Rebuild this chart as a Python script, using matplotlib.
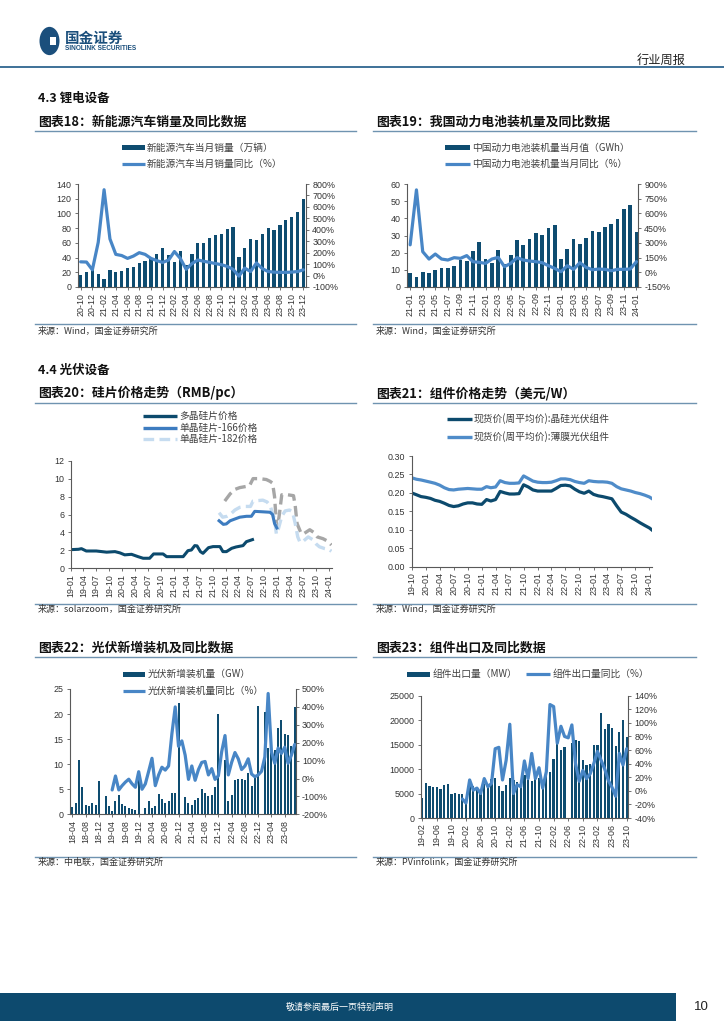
import numpy as np
import pandas as pd
import matplotlib
matplotlib.use('Agg')
import matplotlib.pyplot as plt
import matplotlib.dates as mdates
from matplotlib.lines import Line2D
from matplotlib.patches import Rectangle, Circle
from matplotlib.ticker import FixedLocator, FuncFormatter

W, H = 724, 1024
CJK = ['Noto Sans CJK SC', 'DejaVu Sans']
NUM = ['Liberation Sans', 'Noto Sans CJK SC', 'DejaVu Sans']
plt.rcParams['font.family'] = NUM
plt.rcParams['axes.unicode_minus'] = False

BAR_C = '#0e4c70'
LINE_C = '#4886c6'
SP = '#595959'
TXT = '#333333'
NAVY = '#0d4a6e'
RULE = '#6f93b0'

# ---------------- data ----------------
# Chart 18: NEV monthly sales (10k units) and YoY (%)
nev_start = '2020-10'
nev_sales = [16.0, 20.0, 24.8, 17.9, 11.0, 22.6, 20.6, 21.7, 25.6, 27.1, 32.1, 35.7, 38.3, 45.0, 53.1,
             43.1, 33.4, 48.4, 29.9, 44.7, 59.6, 59.3, 66.6, 70.8, 71.4, 78.6, 81.4,
             40.8, 52.5, 65.3, 63.6, 71.7, 80.6, 78.0, 84.6, 90.4, 95.6, 102.6, 119.1]
nev_yoy = [120, 118, 50, 290, 750, 320, 185, 175, 150, 170, 200, 185, 150, 130, 115,
           135, 210, 150, 55, 105, 136, 125, 115, 105, 95, 80, 55,
           -5, 65, 35, 110, 60, 35, 30, 28, 28, 30, 35, 50]

# Chart 19: power battery installations (GWh) and YoY (%)
bat_start = '2021-01'
bat_vals = [8.4, 5.6, 9.0, 8.4, 9.8, 11.1, 11.3, 12.5, 15.7, 15.4, 20.8, 26.2,
            16.2, 13.7, 21.4, 13.3, 18.6, 27.2, 24.2, 27.8, 31.6, 30.5, 34.3, 35.9,
            16.1, 21.9, 27.8, 25.1, 28.3, 32.9, 32.2, 34.9, 36.6, 39.4, 45.5, 47.8, 32.3]
bat_yoy = [280, 840, 210, 135, 186, 135, 125, 149, 142, 170, 108, 101,
           91, 135, 152, 57, 91, 149, 125, 115, 108, 98, 67, 40,
           6, 67, 30, 98, 50, 26, 33, 30, 16, 30, 30, 33, 108]

# Chart 20: wafer prices (RMB/pc)
poly_dates = ['2019-01-01', '2019-02-25', '2019-03-18', '2019-04-21', '2019-07-01', '2019-09-12',
              '2019-11-10', '2019-12-15', '2020-01-18', '2020-03-06', '2020-04-21', '2020-05-27',
              '2020-07-12', '2020-08-09', '2020-10-15', '2020-11-09', '2021-01-18', '2021-03-06',
              '2021-04-09', '2021-05-03', '2021-05-27', '2021-06-12', '2021-07-06', '2021-07-24',
              '2021-09-01', '2021-10-03', '2021-11-21', '2021-12-12', '2022-01-06', '2022-02-12',
              '2022-03-15', '2022-05-03', '2022-05-27', '2022-07-09']
poly_vals = [2.08, 2.12, 2.19, 1.93, 1.93, 1.80, 1.86, 1.72, 1.50, 1.56, 1.30, 1.12,
             1.12, 1.60, 1.60, 1.30, 1.30, 1.30, 1.97, 2.04, 2.53, 2.50, 1.86, 1.67,
             2.30, 2.42, 2.42, 1.86, 1.86, 2.23, 2.38, 2.53, 2.97, 3.20]
m166_dates = ['2021-11-15', '2021-12-15', '2022-01-05', '2022-02-01', '2022-03-07', '2022-04-10',
              '2022-05-28', '2022-07-01', '2022-07-25', '2022-09-20', '2022-11-10', '2022-11-28',
              '2022-12-12', '2022-12-28']
m166_vals = [5.3, 4.9, 4.95, 5.3, 5.5, 5.7, 5.8, 5.8, 6.35, 6.3, 6.25, 6.0, 5.0, 4.5]
m182_dates = ['2021-11-15', '2021-12-10', '2022-01-10', '2022-02-01', '2022-03-07', '2022-04-10',
              '2022-05-15', '2022-06-25', '2022-07-13', '2022-09-20', '2022-10-20', '2022-11-10',
              '2022-12-12', '2022-12-25', '2023-01-10', '2023-02-01', '2023-02-25', '2023-03-28',
              '2023-04-18', '2023-05-07', '2023-05-25', '2023-06-10', '2023-07-01', '2023-08-07',
              '2023-09-07', '2023-10-03', '2023-10-25', '2023-12-01', '2024-01-01', '2024-01-18']
m182_vals = [6.2, 5.7, 5.8, 6.0, 6.5, 6.8, 6.9, 6.9, 7.5, 7.6, 7.4, 7.0,
             5.5, 3.8, 4.5, 5.8, 6.4, 6.5, 6.3, 5.0, 3.5, 2.9, 3.0, 3.5,
             3.2, 2.7, 2.4, 2.2, 2.1, 1.9]
m210_dates = ['2021-12-25', '2022-02-01', '2022-03-07', '2022-04-10', '2022-05-15', '2022-06-18',
              '2022-07-13', '2022-08-28', '2022-10-15', '2022-11-10', '2022-11-28', '2022-12-12',
              '2022-12-25', '2023-01-01', '2023-01-15', '2023-02-01', '2023-03-15', '2023-04-25',
              '2023-05-07', '2023-05-20', '2023-06-15', '2023-07-01', '2023-08-18', '2023-09-15',
              '2023-10-10', '2023-11-20', '2023-12-25', '2024-01-18']
m210_vals = [7.5, 8.3, 8.8, 9.0, 9.1, 9.2, 10.0, 10.0, 9.9, 9.7, 9.5, 8.0,
             5.0, 4.5, 6.0, 8.2, 8.2, 8.1, 7.0, 5.0, 4.0, 3.8, 4.3, 4.0,
             3.5, 3.3, 3.0, 2.6]

# Chart 21: module spot prices (USD/W), monthly from 2019-10
mod_start = '2019-10'
mod_csi = [0.200, 0.195, 0.190, 0.188, 0.185, 0.180, 0.177, 0.172, 0.166, 0.163, 0.165, 0.170,
           0.173, 0.173, 0.170, 0.169, 0.182, 0.178, 0.182, 0.204, 0.200, 0.197, 0.197, 0.198,
           0.222, 0.216, 0.208, 0.205, 0.205, 0.205, 0.205, 0.212, 0.220, 0.221, 0.219, 0.210,
           0.203, 0.199, 0.205, 0.196, 0.192, 0.190, 0.187, 0.184, 0.165, 0.148, 0.142, 0.134,
           0.127, 0.119, 0.112, 0.105, 0.100]
mod_film = [0.241, 0.237, 0.235, 0.232, 0.229, 0.226, 0.221, 0.214, 0.209, 0.208, 0.210, 0.211,
            0.212, 0.211, 0.210, 0.210, 0.217, 0.214, 0.216, 0.233, 0.228, 0.226, 0.226, 0.227,
            0.246, 0.239, 0.232, 0.229, 0.228, 0.228, 0.229, 0.233, 0.238, 0.238, 0.236, 0.231,
            0.228, 0.226, 0.233, 0.231, 0.230, 0.230, 0.229, 0.226, 0.217, 0.211, 0.208, 0.205,
            0.201, 0.198, 0.194, 0.189, 0.185]

# Chart 22: PV new installations (GW) and YoY (%), monthly from 2018-04
pv_start = '2018-04'
nan = np.nan
pv_new = [1.5, 2.3, 10.8, 5.5, 1.8, 1.6, 2.2, 1.8, 6.6,
          nan, 3.6, 1.6, 0.7, 2.6, 3.8, 2.0, 1.6, 1.3, 1.1, 0.9, 8.3,
          nan, 1.2, 2.6, 1.2, 1.6, 4.1, 3.0, 2.2, 2.7, 4.3, 4.2, 22.3,
          nan, 3.4, 2.2, 1.8, 2.8, 3.2, 5.0, 4.2, 3.6, 3.8, 5.5, 20.1,
          nan, 10.9, 2.6, 3.8, 6.9, 7.1, 7.0, 6.9, 8.3, 5.7, 7.5, 21.7,
          nan, 20.5, 13.3, 14.6, 12.9, 17.2, 18.8, 16.0, 15.8, 13.6, 21.5]
pv_yoy = [nan] * 12 + [-64, 14, -64, -40, -20, -4, -30, -49, 38, -60,
                       -30, 40, 113, -40, 20, 63, 47, 70, 250, 400,
                       180, 210, 130, -5, 70, -10, 50, 90, 95, 20,
                       55, -5, 15, 150, 240, 20, 90, 145, 110, 50,
                       70, 110, 25, 10, 20, 40, 120, 475, 150, 85,
                       170, 140, 175, 85, 130, 190]

# Chart 23: module exports (MW) and YoY (%), monthly from 2019-02
exp_start = '2019-02'
exp_vals = [4000, 7100, 6550, 6350, 6350, 5950, 6750, 6950, 4900, 5050, 4900, 4900,
            3600, 8000, 6500, 6400, 5700, 6900, 6600, 7900, 8200, 6500, 5500, 6800,
            8100, 7700, 7400, 7500, 8800, 7700, 7500, 8000, 8200, 7500, 8900, 9500,
            12100, 15100, 13900, 14500, nan, 15400, 15900, 15800, 11900, 10900, 11000, 14900,
            14900, 21400, 18200, 19200, 18300, 14800, 17600, 20000, 16600]
exp_yoy = [nan] * 11 + [-12, -18, 16, 1, 4, -4, 18, 6, 11, 62,
                        64, 16, 45, 98, -4, 9, 6, 44, 18, 55,
                        18, 34, 4, 28, 127, 124, 70, 95, 80, 78,
                        97, 40, 14, 30, 18, 25, 40, 58, 45, 32,
                        15, 5, -8, 55, 38, 62]

# ---------------- figure helpers ----------------
fig = plt.figure(figsize=(W / 100, H / 100), dpi=100)
fig.patch.set_facecolor('white')


def add_ax(x0, y0, x1, y1):
    return fig.add_axes([x0 / W, 1 - y1 / H, (x1 - x0) / W, (y1 - y0) / H])


def ftext(x, y, s, size, color=TXT, weight='normal', ha='left', va='center', family=None):
    fig.text(x / W, 1 - y / H, s, fontsize=size, color=color, fontweight=weight,
             ha=ha, va=va, family=family or CJK)


def hline(x0, x1, y, color, lw):
    fig.add_artist(Line2D([x0 / W, x1 / W], [1 - y / H] * 2, color=color, lw=lw,
                          transform=fig.transFigure))


def leg_patch(x0, x1, y, h, color):
    fig.add_artist(Rectangle((x0 / W, 1 - (y + h / 2) / H), (x1 - x0) / W, h / H,
                             facecolor=color, edgecolor='none', transform=fig.transFigure))


def leg_line(x0, x1, y, color, lw, dashes=None):
    ln = Line2D([x0 / W, x1 / W], [1 - y / H] * 2, color=color, lw=lw,
                transform=fig.transFigure, solid_capstyle='butt')
    if dashes:
        ln.set_dashes(dashes)
    fig.add_artist(ln)


def style(ax, ls=6.4):
    for s in ('top', 'right'):
        ax.spines[s].set_visible(False)
    for s in ('left', 'bottom'):
        ax.spines[s].set_color(SP)
        ax.spines[s].set_linewidth(0.8)
    ax.tick_params(axis='both', length=2.5, width=0.6, color=SP, labelsize=ls,
                   labelcolor=TXT, pad=2)
    ax.tick_params(axis='x', labelrotation=90, pad=1.5)
    ax.set_facecolor('none')


def style_right(ax2, ls=6.4):
    for s in ('top', 'left', 'bottom'):
        ax2.spines[s].set_visible(False)
    ax2.spines['right'].set_color(SP)
    ax2.spines['right'].set_linewidth(0.8)
    ax2.tick_params(axis='y', length=2.5, width=0.6, color=SP, labelsize=ls,
                    labelcolor=TXT, pad=2)


pct = FuncFormatter(lambda v, p: f'{v:.0f}%')


def combo(box, start, bars, yoy, ylim, ystep, y2lim, y2step, every, xlim, bw):
    cats = pd.period_range(start, periods=len(bars), freq='M').strftime('%y-%m').tolist()
    x = np.arange(len(cats))
    ax = add_ax(*box)
    ax.bar(x, bars, width=bw, color=BAR_C, zorder=2)
    ax.set_xlim(*xlim)
    ax.set_ylim(*ylim)
    ax.set_yticks(np.arange(ylim[0], ylim[1] + ystep / 2, ystep))
    ax.set_xticks(x[::every])
    ax.set_xticklabels(cats[::every])
    style(ax)
    ax2 = ax.twinx()
    ax2.plot(x, yoy, color=LINE_C, lw=2.3, solid_joinstyle='round', solid_capstyle='round')
    ax2.set_xlim(*xlim)
    ax2.set_ylim(*y2lim)
    ax2.set_yticks(np.arange(y2lim[0], y2lim[1] + y2step / 2, y2step))
    ax2.yaxis.set_major_formatter(pct)
    style_right(ax2)
    return ax, ax2


# ---------------- page furniture ----------------
TITLE = 9.3
SRC = 6.5
# logo
fig.add_artist(Circle((49.5 / W, 1 - 41 / H), 10.0 / W, facecolor='#1b4f7c', edgecolor='none',
                      transform=fig.transFigure))
fig.add_artist(Rectangle((50 / W, 1 - 45 / H), 6 / W, 8 / H, facecolor='white', edgecolor='none',
                         transform=fig.transFigure))
ftext(65, 37.5, '国金证券', 10.5, color='#1b4f7c', weight='bold')
ftext(65, 48.5, 'SINOLINK SECURITIES', 4.7, color='#1b4f7c', weight='bold', family=NUM)
ftext(686, 60, '行业周报', 8.8, color='#222222', ha='right')
hline(0, 724, 67, '#2f6690', 1.3)

ftext(38, 98.5, '4.3 锂电设备', 9, color='#111111', weight='bold')
ftext(38, 122, '图表18：新能源汽车销量及同比数据', TITLE, color='#111111', weight='bold')
ftext(376, 122, '图表19：我国动力电池装机量及同比数据', TITLE, color='#111111', weight='bold')
hline(35, 356, 131, RULE, 1.0)
hline(373, 696, 131, RULE, 1.0)
hline(35, 356, 324, RULE, 1.0)
hline(373, 696, 324, RULE, 1.0)
ftext(38, 331, '来源：Wind，国金证券研究所', SRC)
ftext(376, 331, '来源：Wind，国金证券研究所', SRC)

ftext(38, 370, '4.4 光伏设备', 9, color='#111111', weight='bold')
ftext(38, 393, '图表20：硅片价格走势（RMB/pc）', TITLE, color='#111111', weight='bold')
ftext(376, 393, '图表21：组件价格走势（美元/W）', TITLE, color='#111111', weight='bold')
hline(35, 356, 403, RULE, 1.0)
hline(373, 696, 403, RULE, 1.0)
hline(35, 356, 603.5, RULE, 1.0)
hline(373, 696, 603.5, RULE, 1.0)
ftext(38, 609.5, '来源：solarzoom，国金证券研究所', SRC)
ftext(376, 609.5, '来源：Wind，国金证券研究所', SRC)

ftext(38, 648, '图表22：光伏新增装机及同比数据', TITLE, color='#111111', weight='bold')
ftext(376, 648, '图表23：组件出口及同比数据', TITLE, color='#111111', weight='bold')
hline(35, 356, 657, RULE, 1.0)
hline(373, 696, 657, RULE, 1.0)
hline(35, 356, 856.5, RULE, 1.0)
hline(373, 696, 856.5, RULE, 1.0)
ftext(38, 862.5, '来源：中电联，国金证券研究所', SRC)
ftext(376, 862.5, '来源：PVinfolink，国金证券研究所', SRC)

# footer
fig.add_artist(Rectangle((0, 1 - 1021 / H), 676 / W, 28 / H, facecolor=NAVY, edgecolor='none',
                         transform=fig.transFigure))
ftext(340, 1007, '敬请参阅最后一页特别声明', 6.5, color='white', ha='center')
ftext(701, 1007, '10', 9.5, color='#222222', ha='center', family=NUM)

LEG = 7.0
LEGC = '#404040'

# ---------------- chart 18 ----------------
combo((78, 184, 306, 287), nev_start, nev_sales, nev_yoy, (0, 140), 20, (-100, 800), 100,
      2, (-0.45, 38.45), 0.55)
leg_patch(122, 145, 147.5, 5, BAR_C)
ftext(147, 147.5, '新能源汽车当月销量（万辆）', LEG, color=LEGC)
leg_line(122, 145, 164, LINE_C, 2.3)
ftext(147, 164, '新能源汽车当月销量同比（%）', LEG, color=LEGC)

# ---------------- chart 19 ----------------
combo((406.7, 184, 638, 287), bat_start, bat_vals, bat_yoy, (0, 60), 10, (-150, 900), 150,
      2, (-0.55, 36.25), 0.6)
leg_patch(445, 470, 147.5, 5, BAR_C)
ftext(472, 147.5, '中国动力电池装机量当月值（GWh）', LEG, color=LEGC)
leg_line(445, 470, 164, LINE_C, 2.3)
ftext(472, 164, '中国动力电池装机量当月同比（%）', LEG, color=LEGC)

# ---------------- chart 20 ----------------
ax20 = add_ax(70.7, 460.7, 331.7, 568.3)
ax20.plot(pd.to_datetime(m210_dates), m210_vals, color='#a6a6a6', lw=2.4, dashes=(3.2, 1.6))
ax20.plot(pd.to_datetime(m182_dates), m182_vals, color='#c6dcf0', lw=2.4, dashes=(3.2, 1.6))
ax20.plot(pd.to_datetime(m166_dates), m166_vals, color='#3d7cc0', lw=2.2)
ax20.plot(pd.to_datetime(poly_dates), poly_vals, color='#0c4a6d', lw=2.2)
ax20.set_ylim(0, 12)
ax20.set_yticks(np.arange(0, 13, 2))
ax20.set_xlim(pd.Timestamp('2019-01-01'), pd.Timestamp('2024-01-20'))
t20 = pd.date_range('2019-01-01', '2024-01-01', freq='3MS')
ax20.xaxis.set_major_locator(FixedLocator(mdates.date2num(t20)))
ax20.xaxis.set_major_formatter(mdates.DateFormatter('%y-%m'))
style(ax20)
leg_line(143, 177, 415.7, '#0c4a6d', 2.4)
ftext(179, 415.7, '多晶硅片价格', LEG, color=LEGC)
leg_line(143, 177, 427.7, '#3d7cc0', 2.4)
ftext(179, 427.7, '单晶硅片-166价格', LEG, color=LEGC)
leg_line(143, 177, 439.2, '#c6dcf0', 2.4, dashes=(3.2, 1.6))
ftext(179, 439.2, '单晶硅片-182价格', LEG, color=LEGC)

# ---------------- chart 21 ----------------
ax21 = add_ax(411.7, 456, 651.7, 566.7)
d21 = list(pd.date_range(mod_start + '-01', periods=len(mod_csi) - 1, freq='MS')) + [pd.Timestamp('2024-01-16')]
ax21.plot(d21, mod_film, color='#4f8cc9', lw=2.3, solid_joinstyle='round')
ax21.plot(d21, mod_csi, color='#0c4a6d', lw=2.3, solid_joinstyle='round')
ax21.set_ylim(0, 0.30)
ax21.set_yticks(np.arange(0, 0.301, 0.05))
ax21.yaxis.set_major_formatter(FuncFormatter(lambda v, p: f'{v:.2f}'))
ax21.set_xlim(pd.Timestamp('2019-10-01'), pd.Timestamp('2024-01-16'))
t21 = pd.date_range('2019-10-01', '2024-01-01', freq='3MS')
ax21.xaxis.set_major_locator(FixedLocator(mdates.date2num(t21)))
ax21.xaxis.set_major_formatter(mdates.DateFormatter('%y-%m'))
style(ax21)
leg_line(447, 472, 419, '#0c4a6d', 2.4)
ftext(474, 419, '现货价(周平均价):晶硅光伏组件', LEG, color=LEGC)
leg_line(447, 472, 436.7, '#4f8cc9', 2.4)
ftext(474, 436.7, '现货价(周平均价):薄膜光伏组件', LEG, color=LEGC)

# ---------------- chart 22 ----------------
combo((70, 689, 295.7, 814.3), pv_start, pv_new, pv_yoy, (0, 25), 5, (-200, 500), 100,
      4, (-0.7, 67.3), 0.6)
leg_patch(123, 145, 674, 5, BAR_C)
ftext(148, 674, '光伏新增装机量（GW）', LEG, color=LEGC)
leg_line(123, 145, 691, LINE_C, 2.3)
ftext(148, 691, '光伏新增装机量同比（%）', LEG, color=LEGC)

# ---------------- chart 23 ----------------
ax23, _ = combo((420.7, 695.7, 628.3, 818), exp_start, exp_vals, exp_yoy, (0, 25000), 5000,
                (-40, 140), 20, 4, (-0.4, 56.45), 0.62)
ax23.yaxis.set_major_formatter(FuncFormatter(lambda v, p: f'{v:.0f}'))
leg_patch(407, 430, 674, 5, BAR_C)
ftext(433, 674, '组件出口量（MW）', LEG, color=LEGC)
leg_line(526, 550, 674, LINE_C, 2.3)
ftext(553, 674, '组件出口量同比（%）', LEG, color=LEGC)

fig.savefig('out.png', dpi=100, facecolor='white')
